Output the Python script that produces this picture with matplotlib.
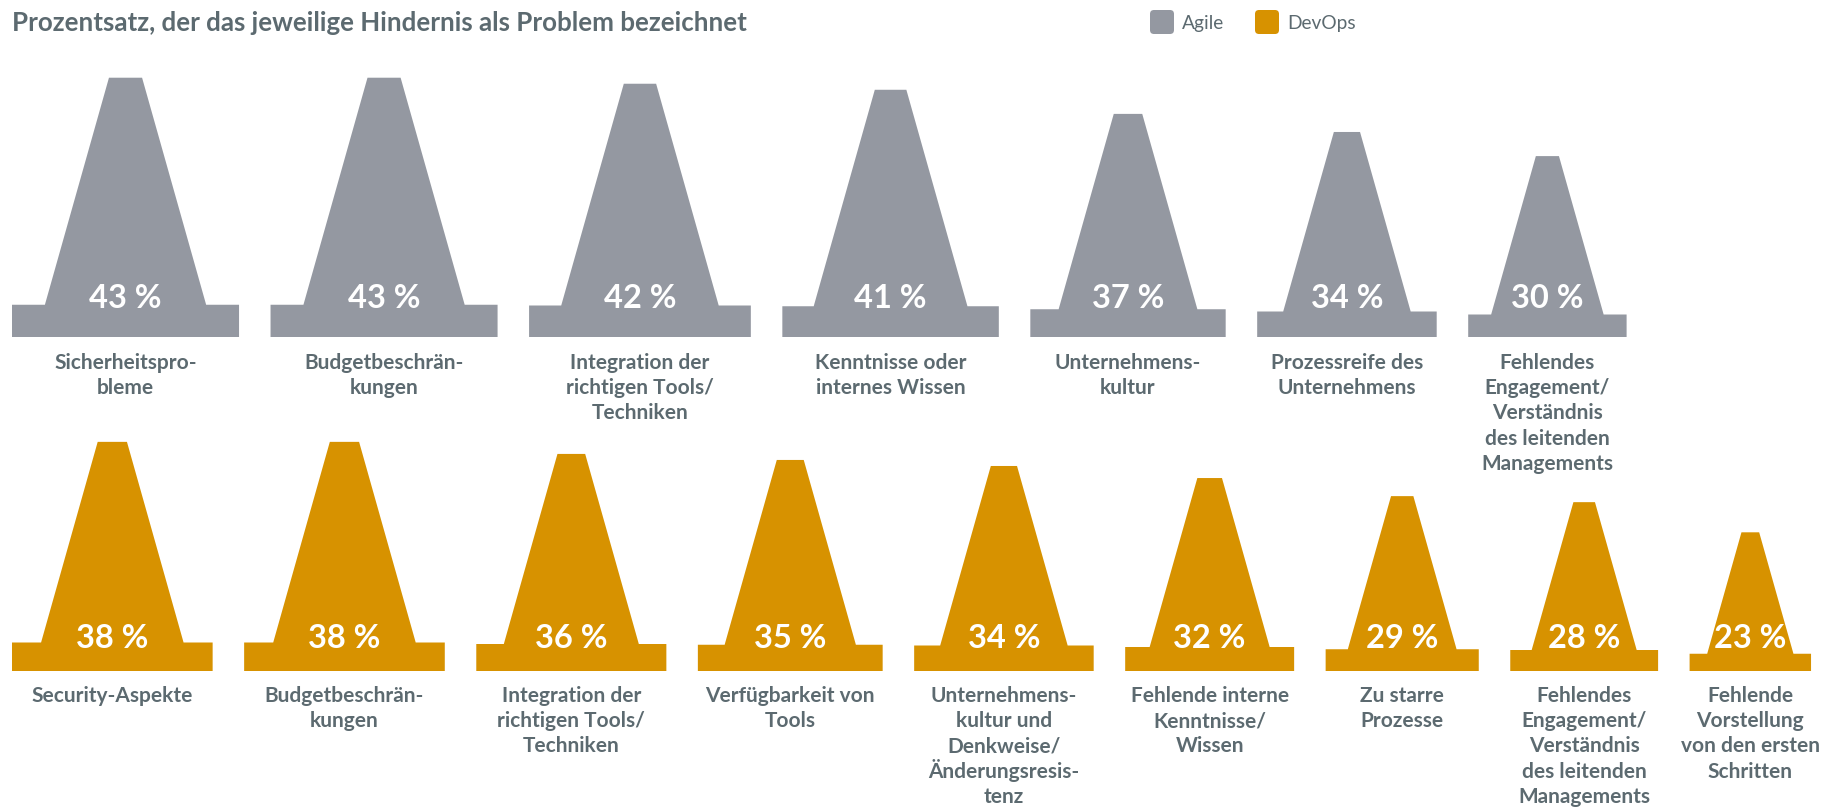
import matplotlib.pyplot as plt
from matplotlib.patches import Polygon, FancyBboxPatch

title = "Prozentsatz, der das jeweilige Hindernis als Problem bezeichnet"
series_names = ["Agile", "DevOps"]

agile_values = [43, 43, 42, 41, 37, 34, 30]
agile_labels = [
    "Sicherheitspro-\nbleme",
    "Budgetbeschrän-\nkungen",
    "Integration der\nrichtigen Tools/\nTechniken",
    "Kenntnisse oder\ninternes Wissen",
    "Unternehmens-\nkultur",
    "Prozessreife des\nUnternehmens",
    "Fehlendes\nEngagement/\nVerständnis\ndes leitenden\nManagements",
]

devops_values = [38, 38, 36, 35, 34, 32, 29, 28, 23]
devops_labels = [
    "Security-Aspekte",
    "Budgetbeschrän-\nkungen",
    "Integration der\nrichtigen Tools/\nTechniken",
    "Verfügbarkeit von\nTools",
    "Unternehmens-\nkultur und\nDenkweise/\nÄnderungsresis-\ntenz",
    "Fehlende interne\nKenntnisse/\nWissen",
    "Zu starre\nProzesse",
    "Fehlendes\nEngagement/\nVerständnis\ndes leitenden\nManagements",
    "Fehlende\nVorstellung\nvon den ersten\nSchritten",
]

GREY = "#9498a1"
ORANGE = "#d79200"
TEXT = "#5c6a70"
FONT = "Lato"

# cone size per percentage point, in pixels
W = 5.28
H = 6.03
BASE_H = 0.75
BODY_W = 3.75
TOP_W = 0.77
GAP = 31.5
LINE_H = 25.2


def draw_row(ax, values, labels, color, bottom, value_y, label_y):
    left = 12
    for v, lab in zip(values, labels):
        cx = left + W*v/2
        base_top = bottom - BASE_H*v
        # one outline, so no seam shows between base and body
        ax.add_patch(Polygon([
            (left, bottom),
            (left + W*v, bottom),
            (left + W*v, base_top),
            (cx + BODY_W*v/2, base_top),
            (cx + TOP_W*v/2, bottom - H*v),
            (cx - TOP_W*v/2, bottom - H*v),
            (cx - BODY_W*v/2, base_top),
            (left, base_top),
        ], fc=color, ec="none"))
        ax.text(cx, value_y, f"{v} %", color="white", fontsize=23.5, fontweight="bold",
                ha="center", va="center", family=FONT)
        # lines placed one by one, umlauts would stretch a multiline text
        for i, line in enumerate(lab.split("\n")):
            ax.text(cx, label_y + i*LINE_H, line, color=TEXT, fontsize=15, fontweight="bold",
                    ha="center", va="baseline", family=FONT)
        left += W*v + GAP


fig = plt.figure(figsize=(18.32, 8.08), dpi=100)
ax = fig.add_axes([0, 0, 1, 1])
ax.set_xlim(0, 1832)
ax.set_ylim(808, 0)
ax.axis("off")

ax.text(12, 23, title, color=TEXT, fontsize=18.65, fontweight="bold", va="center", family=FONT)

for x, name, color in zip([1150, 1255], series_names, [GREY, ORANGE]):
    ax.add_patch(FancyBboxPatch((x + 3, 13), 18, 18, boxstyle="round,pad=3,rounding_size=4",
                                fc=color, ec="none"))
    ax.text(x + 32, 24, name, color=TEXT, fontsize=13.8, va="center", family=FONT)

draw_row(ax, agile_values, agile_labels, GREY, 337, 299, 369)
draw_row(ax, devops_values, devops_labels, ORANGE, 671, 639, 702)

fig.savefig("out.png", dpi=100)
